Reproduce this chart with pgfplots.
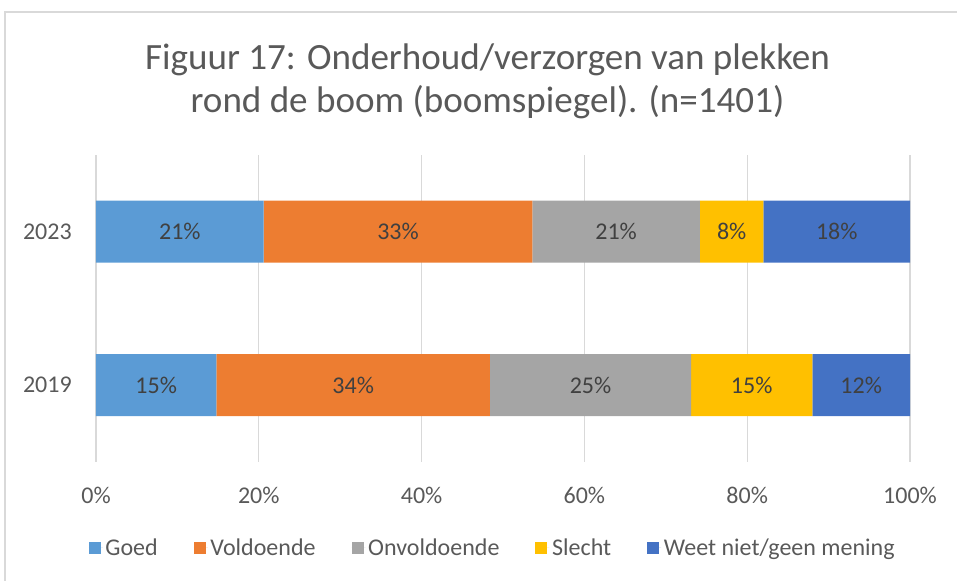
\documentclass[border=0pt]{standalone}
\usepackage{pgfplots}
\pgfplotsset{compat=1.18}
\usepackage{fontspec}
\setmainfont{Carlito}

\definecolor{cGoed}{HTML}{5B9BD5}
\definecolor{cVold}{HTML}{ED7D31}
\definecolor{cOnv}{HTML}{A5A5A5}
\definecolor{cSlecht}{HTML}{FFC000}
\definecolor{cWeet}{HTML}{4472C4}
\definecolor{txt}{HTML}{595959}
\definecolor{lbl}{HTML}{404040}
\definecolor{gridc}{HTML}{D9D9D9}

\begin{document}
\begin{tikzpicture}
\useasboundingbox (-72pt,-89.25pt) rectangle (645.75pt,346.5pt);
\draw[gridc, line width=0.8pt] (-68.25pt,-95pt) -- (-68.25pt,337.5pt) -- (650pt,337.5pt);
\begin{axis}[
  anchor=south west, at={(0,0)},
  scale only axis,
  width=610.5pt, height=230.25pt,
  xbar stacked,
  bar width=46.5pt,
  xmin=0, xmax=100,
  ymin=-0.5, ymax=1.5,
  ytick={0,1},
  yticklabels={2019,2023},
  xtick={0,20,40,60,80,100},
  xticklabels={0\%,20\%,40\%,60\%,80\%,100\%},
  xmajorgrids,
  grid style={gridc, line width=1pt},
  axis line style={draw=none},
  tick style={draw=none},
  major tick length=0pt,
  font=\fontsize{18}{21}\selectfont,
  tick label style={text=txt},
  xticklabel style={anchor=center, yshift=-24.75pt},
  yticklabel style={anchor=east, inner sep=0pt, xshift=-18pt},
  title={Figuur 17: Onderhoud/verzorgen van plekken\\rond de boom (boomspiegel). (n=1401)},
  title style={at={(axis description cs:0.481,1.214)}, anchor=center, align=center,
    text=txt, font=\fontsize{27.8}{32.25}\selectfont},
  point meta=explicit symbolic,
  nodes near coords={\pgfplotspointmeta},
  every node near coord/.append style={anchor=center, text=lbl},
  legend columns=-1,
  legend image code/.code={\fill[#1] (0pt,-4.5pt) rectangle (9pt,4.5pt); \path (0pt,0pt) -- (10.5pt,0pt);},
  legend style={draw=none, fill=none, text=txt,
    at={(axis description cs:0.4877,-0.28)}, anchor=center,
    /tikz/every even column/.append style={column sep=25pt}},
]
\addplot[fill=cGoed, draw=none] coordinates {(14.8,0) [15\%] (20.6,1) [21\%]};
\addlegendentry{Goed}
\addplot[fill=cVold, draw=none] coordinates {(33.6,0) [34\%] (33.0,1) [33\%]};
\addlegendentry{Voldoende}
\addplot[fill=cOnv, draw=none] coordinates {(24.7,0) [25\%] (20.6,1) [21\%]};
\addlegendentry{Onvoldoende}
\addplot[fill=cSlecht, draw=none] coordinates {(14.9,0) [15\%] (7.8,1) [8\%]};
\addlegendentry{Slecht}
\addplot[fill=cWeet, draw=none] coordinates {(12.0,0) [12\%] (18.0,1) [18\%]};
\addlegendentry{Weet niet/geen mening}
\end{axis}
\end{tikzpicture}
\end{document}
